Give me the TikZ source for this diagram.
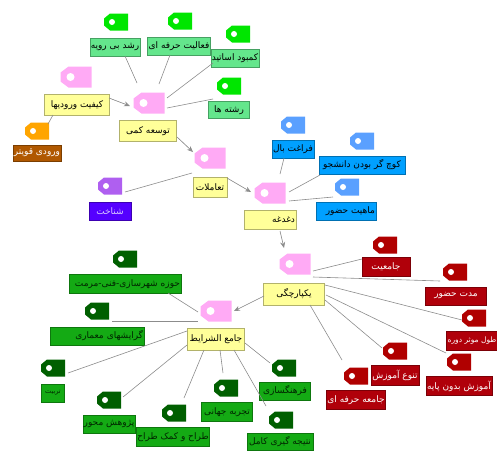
\documentclass[tikz,border=0pt]{standalone}
\usepackage{fontspec}
\usetikzlibrary{arrows.meta,calc}
\TeXXeTstate=1
\newfontfamily\fafont[Script=Arabic]{DejaVu Sans}
\newcommand{\rl}[1]{\beginR #1\endR}
\definecolor{pinktag}{RGB}{255,170,245}
\definecolor{yelbox}{RGB}{255,255,153}
\definecolor{lgtag}{RGB}{0,230,0}
\definecolor{lgbox}{RGB}{100,230,140}
\definecolor{ortag}{RGB}{255,165,0}
\definecolor{brbox}{RGB}{176,88,0}
\definecolor{pptag}{RGB}{175,95,240}
\definecolor{ppbox}{RGB}{85,0,255}
\definecolor{bltag}{RGB}{90,160,255}
\definecolor{blbox}{RGB}{0,160,255}
\definecolor{rdtag}{RGB}{176,0,0}
\definecolor{rdbox}{RGB}{176,0,10}
\definecolor{dgtag}{RGB}{0,95,0}
\definecolor{dgbox}{RGB}{20,170,20}
\definecolor{linkgray}{RGB}{140,140,140}
\definecolor{lavtext}{RGB}{215,200,255}
\newcommand{\tagpath}[5]{%
  \fill[#1] ([xshift=#2]path picture bounding box.north west)
    -- (path picture bounding box.north east)
    -- (path picture bounding box.south east)
    -- ([xshift=#2]path picture bounding box.south west)
    -- ([yshift=#3]path picture bounding box.south west)
    -- ([yshift=-#3]path picture bounding box.north west) -- cycle;
  \fill[white] ([xshift=#4]path picture bounding box.west) circle (#5);}
\tikzset{
  tagsmall/.style={minimum width=24pt, minimum height=17pt, inner sep=0pt, outer sep=0pt,
    path picture={\tagpath{#1}{6pt}{5pt}{8pt}{3pt}}},
  tagbig/.style={minimum width=31pt, minimum height=21pt, inner sep=0pt, outer sep=0pt,
    path picture={\tagpath{pinktag}{8pt}{6pt}{10pt}{4pt}}},
  box/.style={draw=#1!70!black, fill=#1, line width=0.4pt, inner sep=1pt,
    font=\fafont\fontsize{9}{10}\selectfont},
  ybox/.style={box=yelbox, text=black},
  lgb/.style={box=lgbox, text=black},
  brb/.style={box=brbox, text=white},
  ppb/.style={box=ppbox, text=lavtext},
  blb/.style={box=blbox, text=black},
  rdb/.style={box=rdbox, text=white},
  dgb/.style={box=dgbox, text=black!85!green},
  rtext/.style={text width=#1, align=right},
  link/.style={draw=linkgray, line width=0.6pt},
  alink/.style={link, -{Stealth[length=6pt,width=5pt]}, fill=linkgray}
}
\begin{document}
\begin{tikzpicture}[x=1pt,y=-1pt]
\useasboundingbox (0,0) rectangle (497,450);
% pink hub tags
\node[tagbig] (p1) at (76,77) {};
\node[tagbig] (p2) at (149,103) {};
\node[tagbig] (p3) at (210,158) {};
\node[tagbig] (p4) at (270,193) {};
\node[tagbig] (p5) at (295,264) {};
\node[tagbig] (p6) at (216,311) {};
% yellow boxes
\node[ybox, minimum width=65pt, minimum height=21pt] (y1) at (77,105) {\rl{کیفیت ورودیها}};
\node[ybox, minimum width=57pt, minimum height=21pt] (y2) at (148,131) {\rl{توسعه کمی}};
\node[ybox, minimum width=34pt, minimum height=20pt] (y3) at (210,187) {\rl{تعاملات}};
\node[ybox, minimum height=19pt, rtext=50pt] (y4) at (270,220) {\rl{دغدغه}};
\node[ybox, minimum width=61pt, minimum height=22pt] (y5) at (294,294) {\rl{یکپارچگی}};
\node[ybox, minimum width=57pt, minimum height=22pt] (y6) at (216,339) {\rl{جامع الشرایط}};
% light green
\node[tagsmall=lgtag] (g1) at (116,22) {};
\node[lgb, minimum width=48pt, minimum height=18pt] (g1b) at (115,47) {\rl{رشد بی رویه}};
\node[tagsmall=lgtag] (g2) at (180,21) {};
\node[lgb, minimum width=63pt, minimum height=18pt] (g2b) at (179,46) {\rl{فعالیت حرفه ای}};
\node[tagsmall=lgtag] (g3) at (238,34) {};
\node[lgb, minimum width=44pt, minimum height=18pt] (g3b) at (235,58) {\rl{کمبود اساتید}};
\node[tagsmall=lgtag] (g4) at (229,86) {};
\node[lgb, minimum width=41pt, minimum height=17pt] (g4b) at (229,110) {\rl{رشته ها}};
% orange / brown
\node[tagsmall=ortag] (o1) at (37,131) {};
\node[brb, minimum width=44pt, minimum height=16pt] (o1b) at (37,153) {\rl{ورودی قویتر}};
% purple
\node[tagsmall=pptag] (v1) at (110,186) {};
\node[ppb, minimum width=42pt, minimum height=18pt] (v1b) at (110,211) {\rl{شناخت}};
% blue
\node[tagsmall=bltag] (b1) at (293,125) {};
\node[blb, minimum width=40pt, minimum height=18pt] (b1b) at (293,149) {\rl{فراغت بال}};
\node[tagsmall=bltag] (b2) at (362,141) {};
\node[blb, minimum width=86pt, minimum height=18pt] (b2b) at (362,165) {\rl{کوچ گر بودن دانشجو}};
\node[tagsmall=bltag] (b3) at (347,187) {};
\node[blb, minimum height=18pt, rtext=58pt] (b3b) at (346,211) {\rl{ماهیت حضور}};
% red
\node[tagsmall=rdtag] (r1) at (385,245) {};
\node[rdb, minimum width=48pt, minimum height=19pt] (r1b) at (386,267) {\rl{جامعیت}};
\node[tagsmall=rdtag] (r2) at (455,272) {};
\node[rdb, minimum width=61pt, minimum height=18pt] (r2b) at (456,296) {\rl{مدت حضور}};
\node[tagsmall=rdtag] (r3) at (474,318) {};
\node[rdb, minimum width=50pt, minimum height=19pt, font=\fafont\fontsize{7.5}{9}\selectfont] (r3b) at (472,341) {\rl{طول موثر دوره}};
\node[tagsmall=rdtag] (r4) at (395,351) {};
\node[rdb, minimum width=44pt, minimum height=20pt] (r4b) at (395,375) {\rl{تنوع آموزش}};
\node[tagsmall=rdtag] (r5) at (459,362) {};
\node[rdb, minimum width=64pt, minimum height=19pt] (r5b) at (459,386) {\rl{آموزش بدون پایه}};
\node[tagsmall=rdtag] (r6) at (356,376) {};
\node[rdb, minimum width=54pt, minimum height=19pt] (r6b) at (356,400) {\rl{جامعه حرفه ای}};
% dark green
\node[tagsmall=dgtag] (d1) at (125,259) {};
\node[dgb, minimum height=19pt, rtext=110pt] (d1b) at (125,284) {\rl{حوزه شهرسازی-فنی-مرمت}};
\node[tagsmall=dgtag] (d2) at (97,311) {};
\node[dgb, minimum height=18pt, rtext=92pt] (d2b) at (97,336) {\rl{گرایشهای معماری}};
\node[tagsmall=dgtag] (d3) at (53,368) {};
\node[dgb, minimum width=23pt, minimum height=18pt, font=\fafont\fontsize{6.5}{7}\selectfont] (d3b) at (53,393) {\rl{تربیت}};
\node[tagsmall=dgtag] (d4) at (109,400) {};
\node[dgb, minimum width=49pt, minimum height=18pt] (d4b) at (109,424) {\rl{پژوهش محور}};
\node[tagsmall=dgtag] (d5) at (174,413) {};
\node[dgb, minimum width=70pt, minimum height=19pt] (d5b) at (173,437) {\rl{طراح و کمک طراح}};
\node[tagsmall=dgtag] (d6) at (226,388) {};
\node[dgb, minimum width=51pt, minimum height=19pt] (d6b) at (227,412) {\rl{تجربه جهانی}};
\node[tagsmall=dgtag] (d7) at (284,368) {};
\node[dgb, minimum width=51pt, minimum height=18pt] (d7b) at (285,391) {\rl{فرهنگسازی}};
\node[tagsmall=dgtag] (d8) at (281,420) {};
\node[dgb, minimum width=66pt, minimum height=17pt] (d8b) at (280,442) {\rl{نتیجه گیری کامل}};
% arrows between hubs
\draw[alink] ([shift={(32,-7)}]y1.center) -- ([shift={(-19,3)}]p2.center);
\draw[alink] ([shift={(29,6)}]y2.center) -- ([shift={(-17,-6)}]p3.center);
\draw[alink] ([shift={(17,-9)}]y3.center) -- ([shift={(-19,-1)}]p4.center);
\draw[alink] ([shift={(10,11)}]y4.center) -- ([shift={(-11,-16)}]p5.center);
\draw[alink] ([shift={(-30,2)}]y5.center) -- ([shift={(18,0)}]p6.center);
% plain links
\draw[link] ([shift={(10,9)}]g1b.center) -- ([shift={(-12,-20)}]p2.center);
\draw[link] ([shift={(-9,9)}]g2b.center) -- ([shift={(10,-19)}]p2.center);
\draw[link] ([shift={(-22,5)}]g3b.center) -- ([shift={(18,-5)}]p2.center);
\draw[link] ([shift={(-16,-11)}]g4b.center) -- ([shift={(18,5)}]p2.center);
\draw[link] ([shift={(-24,10)}]y1.center) -- ([shift={(11,-7)}]o1.center);
\draw[link] ([shift={(15,6)}]v1.center) -- ([shift={(-18,15)}]p3.center);
\draw[link] ([shift={(-9,9)}]b1b.center) -- ([shift={(10,-19)}]p4.center);
\draw[link] ([shift={(-42,10)}]b2b.center) -- ([shift={(19,-1)}]p4.center);
\draw[link] ([shift={(-13,-14)}]b3b.center) -- ([shift={(19,8)}]p4.center);
\draw[link] ([shift={(18,7)}]p5.center) -- ([shift={(-24,-8)}]r1b.center);
\draw[link] ([shift={(18,13)}]p5.center) -- ([shift={(-15,9)}]r2.center);
\draw[link] ([shift={(31,-9)}]y5.center) -- ([shift={(-12,2)}]r3.center);
\draw[link] ([shift={(32,1)}]y5.center) -- ([shift={(-13,-9)}]r5.center);
\draw[link] ([shift={(31,6)}]y5.center) -- ([shift={(-13,-3)}]r4.center);
\draw[link] ([shift={(16,11)}]y5.center) -- ([shift={(-14,-16)}]r6.center);
\draw[link] ([shift={(43,9)}]d1b.center) -- ([shift={(-18,1)}]p6.center);
\draw[link] ([shift={(15,10)}]d2.center) -- ([shift={(-18,10)}]p6.center);
\draw[link] ([shift={(-29,-8)}]y6.center) -- ([shift={(15,5)}]d3.center);
\draw[link] ([shift={(-29,6)}]y6.center) -- ([shift={(14,-3)}]d4.center);
\draw[link] ([shift={(-12,11)}]y6.center) -- ([shift={(10,-15)}]d5.center);
\draw[link] ([shift={(4,11)}]y6.center) -- ([shift={(-3,-15)}]d6.center);
\draw[link] ([shift={(29,4)}]y6.center) -- ([shift={(-14,-5)}]d7.center);
\draw[link] ([shift={(18,11)}]y6.center) -- ([shift={(-15,-14)}]d8.center);
\end{tikzpicture}
\end{document}
